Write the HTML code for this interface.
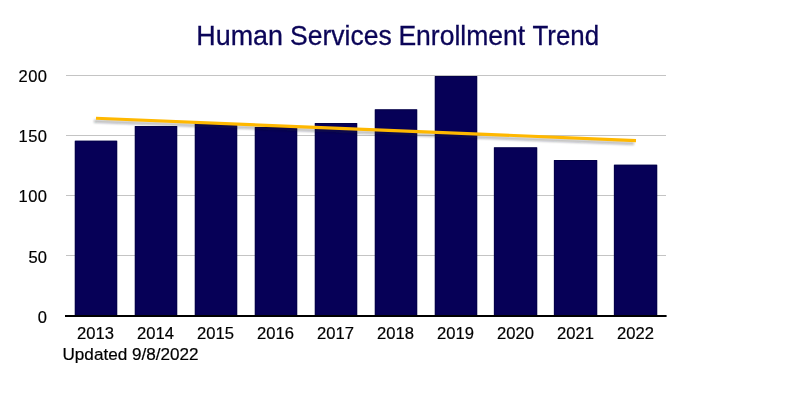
<!DOCTYPE html>
<html>
<head>
<meta charset="utf-8">
<style>
html,body{margin:0;padding:0;background:#fff;}
body{width:800px;height:400px;overflow:hidden;position:relative;}
svg{position:absolute;left:0;top:0;display:block;will-change:transform;}
text{font-family:"Liberation Sans",sans-serif;stroke:currentColor;stroke-width:0.2px;}
.tt text{stroke-width:0.3px;}
</style>
</head>
<body>
<svg width="800" height="400" viewBox="0 0 800 400">
<defs>
<filter id="sh" x="-5%" y="-200%" width="110%" height="500%">
<feGaussianBlur stdDeviation="1.0"/>
</filter>
</defs>
<rect x="0" y="0" width="800" height="400" fill="#ffffff"/>
<!-- title -->
<g class="tt" font-size="28.3" fill="#0b0558" color="#0b0558">
<text x="196.3" y="44.6" textLength="86.65" lengthAdjust="spacingAndGlyphs">Human</text>
<text x="289.99" y="44.6" textLength="101.76" lengthAdjust="spacingAndGlyphs">Services</text>
<text x="398.42" y="44.6" textLength="126.77" lengthAdjust="spacingAndGlyphs">Enrollment</text>
<text x="532.53" y="44.6" textLength="66.62" lengthAdjust="spacingAndGlyphs">Trend</text>
</g>
<!-- gridlines -->
<g stroke="#c4c4c4" stroke-width="1">
<line x1="66" y1="75.5" x2="666" y2="75.5"/>
<line x1="66" y1="135.5" x2="666" y2="135.5"/>
<line x1="66" y1="195.5" x2="666" y2="195.5"/>
<line x1="66" y1="255.5" x2="666" y2="255.5"/>
</g>
<!-- bars -->
<g fill="#060057">
<rect x="74.8" y="140.7" width="42.4" height="174.3"/>
<path d="M75.30 315.0V141.20H116.70V315" fill="none" stroke="#02003e" stroke-width="1" stroke-opacity="0.55"/>
<rect x="134.8" y="126.0" width="42.4" height="189.0"/>
<path d="M135.30 315.0V126.50H176.70V315" fill="none" stroke="#02003e" stroke-width="1" stroke-opacity="0.55"/>
<rect x="194.8" y="123.0" width="42.4" height="192.0"/>
<path d="M195.30 315.0V123.50H236.70V315" fill="none" stroke="#02003e" stroke-width="1" stroke-opacity="0.55"/>
<rect x="254.8" y="127.0" width="42.4" height="188.0"/>
<path d="M255.30 315.0V127.50H296.70V315" fill="none" stroke="#02003e" stroke-width="1" stroke-opacity="0.55"/>
<rect x="314.8" y="123.0" width="42.4" height="192.0"/>
<path d="M315.30 315.0V123.50H356.70V315" fill="none" stroke="#02003e" stroke-width="1" stroke-opacity="0.55"/>
<rect x="374.8" y="109.3" width="42.4" height="205.7"/>
<path d="M375.30 315.0V109.80H416.70V315" fill="none" stroke="#02003e" stroke-width="1" stroke-opacity="0.55"/>
<rect x="434.8" y="76.0" width="42.4" height="239.0"/>
<path d="M435.30 315.0V76.50H476.70V315" fill="none" stroke="#02003e" stroke-width="1" stroke-opacity="0.55"/>
<rect x="493.9" y="147.3" width="43.3" height="167.7"/>
<path d="M494.40 315.0V147.80H536.70V315" fill="none" stroke="#02003e" stroke-width="1" stroke-opacity="0.55"/>
<rect x="553.9" y="160.0" width="43.3" height="155.0"/>
<path d="M554.40 315.0V160.50H596.70V315" fill="none" stroke="#02003e" stroke-width="1" stroke-opacity="0.55"/>
<rect x="613.9" y="164.7" width="43.3" height="150.3"/>
<path d="M614.40 315.0V165.20H656.70V315" fill="none" stroke="#02003e" stroke-width="1" stroke-opacity="0.55"/>
</g>
<!-- axis -->
<line x1="65" y1="316.1" x2="666.6" y2="316.1" stroke="#000" stroke-width="2"/>
<!-- trend shadow -->
<line x1="94" y1="121.3" x2="634" y2="143.6" stroke="#161a26" stroke-opacity="0.31" stroke-width="3" filter="url(#sh)"/>
<!-- trend -->
<line x1="96" y1="118.3" x2="636" y2="140.6" stroke="#ffb800" stroke-width="3.1"/>
<!-- y labels -->
<g font-size="16.5" fill="#000" color="#000" text-anchor="end">
<text x="47" y="81.5" textLength="28.4">200</text>
<text x="47" y="141.5" textLength="28.4">150</text>
<text x="47" y="201.5" textLength="28.4">100</text>
<text x="47" y="262.8" textLength="18.6">50</text>
<text x="47" y="322.8">0</text>
</g>
<!-- x labels -->
<g font-size="16.6" fill="#000" color="#000" text-anchor="middle">
<text x="95.5" y="339">2013</text>
<text x="155.5" y="339">2014</text>
<text x="215.5" y="339">2015</text>
<text x="275.5" y="339">2016</text>
<text x="335.5" y="339">2017</text>
<text x="395.5" y="339">2018</text>
<text x="455.5" y="339">2019</text>
<text x="515.5" y="339">2020</text>
<text x="575.5" y="339">2021</text>
<text x="635.5" y="339">2022</text>
</g>
<text x="62.5" y="360" font-size="16.8" fill="#000" color="#000" textLength="136" lengthAdjust="spacingAndGlyphs">Updated 9/8/2022</text>
</svg>
</body>
</html>
